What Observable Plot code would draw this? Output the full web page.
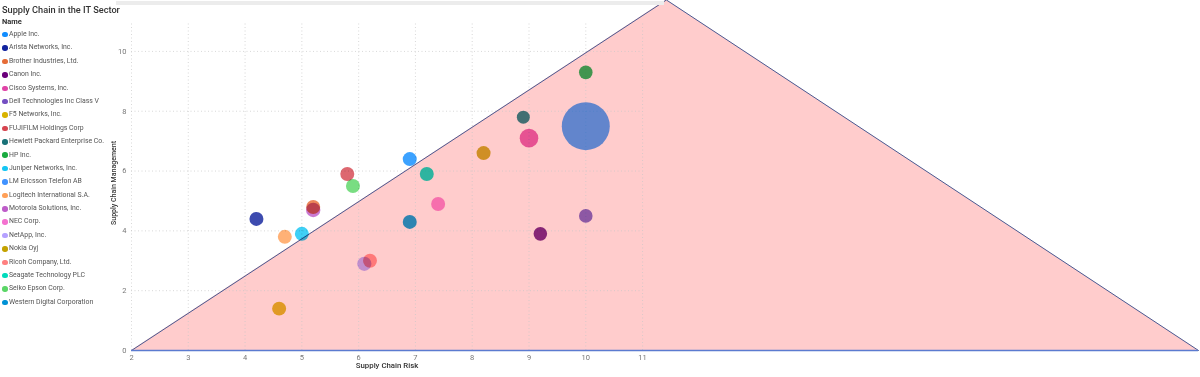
<!DOCTYPE html>
<html>
<head>
<meta charset="utf-8">
<script src="https://cdn.jsdelivr.net/npm/d3@7"></script>
<script src="https://cdn.jsdelivr.net/npm/@observablehq/plot@0.6"></script>
<style>
  html, body { margin: 0; padding: 0; background: #fff; }
  body { width: 1200px; height: 377px; overflow: hidden; position: relative;
         font-family: Roboto, "Liberation Sans", sans-serif; }
  #chart { position: absolute; left: 0; top: 0; }
  #topbar { position: absolute; left: 116px; top: 1px; width: 548px; height: 4px; background: #ececec; }
  #title { position: absolute; left: 2px; top: 4px; font-size: 9.2px; color: #333; white-space: nowrap; font-weight: 500; }
  #legend { position: absolute; left: 2px; top: 16px; color: #555; }
  #legend .hd { font-weight: bold; font-size: 7.5px; color: #333; height: 12px; line-height: 12px; }
  #legend .it { font-size: 6.9px; height: 13.4px; line-height: 13.4px; white-space: nowrap; display: flex; align-items: center; }
  #legend .sw { width: 5.5px; height: 5.5px; border-radius: 50%; margin-right: 1.5px; flex: none; }
</style>
</head>
<body>
<div id="chart"></div>
<div id="topbar"></div>
<div id="title">Supply Chain in the IT Sector</div>
<div id="legend"></div>
<script>
// ---- data ----
const names = [
  "Apple Inc.", "Arista Networks, Inc.", "Brother Industries, Ltd.", "Canon Inc.",
  "Cisco Systems, Inc.", "Dell Technologies Inc Class V", "F5 Networks, Inc.",
  "FUJIFILM Holdings Corp", "Hewlett Packard Enterprise Co.", "HP Inc.",
  "Juniper Networks, Inc.", "LM Ericsson Telefon AB", "Logitech International S.A.",
  "Motorola Solutions, Inc.", "NEC Corp.", "NetApp, Inc.", "Nokia Oyj",
  "Ricoh Company, Ltd.", "Seagate Technology PLC", "Seiko Epson Corp.",
  "Western Digital Corporation"
];
const risk = [6.9, 4.2, 5.2, 9.2, 9.0, 10.0, 4.6, 5.8, 8.9, 10.0, 5.0, 10.0, 4.7, 5.2, 7.4, 6.1, 8.2, 6.2, 7.2, 5.9, 6.9];
const management = [6.4, 4.4, 4.8, 3.9, 7.1, 4.5, 1.4, 5.9, 7.8, 9.3, 3.9, 7.5, 3.8, 4.7, 4.9, 2.9, 6.6, 3.0, 5.9, 5.5, 4.3];
const bubbleSize = [8.5, 8.5, 8.5, 8.0, 15, 8.0, 8.5, 8.5, 7.3, 8.0, 8.5, 100, 8.5, 9, 8.5, 8.8, 8.5, 8.4, 8.5, 8.5, 8.5];
const palette = [
  "#118DFF", "#12239E", "#E66C37", "#6B007B", "#E044A7", "#744EC2", "#D9B300",
  "#D64550", "#197278", "#1AAB40", "#15C6F4", "#4092FF", "#FFA058", "#BE5DC9",
  "#F472D0", "#B5A1FF", "#C4A200", "#FF8080", "#00DBBC", "#5BD667", "#0091D5"
];
const xTicks = [2, 3, 4, 5, 6, 7, 8, 9, 10, 11];
const yTicks = [0, 2, 4, 6, 8, 10];
const xDomain = [2, 20.79];
const yDomain = [0, 11];
// background triangle (data units)
const triRisk = [2, 11.42, 20.79];
const triMgmt = [0, 11.72, 0];
const xLabel = "Supply Chain Risk";
const yLabel = "Supply Chain Management";
const legendTitle = "Name";

const rows = names.map((n, i) => ({name: n, risk: risk[i], mgmt: management[i], size: bubbleSize[i]}));
const tri = triRisk.map((x, i) => ({x, y: triMgmt[i]}));

const fontStack = 'Roboto, "Liberation Sans", sans-serif';

const chart = Plot.plot({
  width: 1200,
  height: 377,
  marginLeft: 131,
  marginRight: 2,
  marginTop: 21,
  marginBottom: 27,
  style: {fontFamily: fontStack, background: "transparent", overflow: "visible"},
  x: {domain: xDomain, ticks: xTicks, label: null},
  y: {domain: yDomain, ticks: yTicks, label: null},
  color: {domain: names, range: palette},
  r: {type: "sqrt", domain: [0, 100], range: [0, 24]},
  marks: [
    Plot.areaY(tri, {x: "x", y: "y", fill: "#ffcccc"}),
    Plot.ruleX(xTicks, {y1: yDomain[0], y2: yDomain[1], stroke: "#c8c8c8", strokeDasharray: "1,2.5", strokeOpacity: 0.7}),
    Plot.ruleY(yTicks, {x1: xTicks[0], x2: xTicks[xTicks.length - 1], stroke: "#c8c8c8", strokeDasharray: "1,2.5", strokeOpacity: 0.7}),
    Plot.line(tri, {x: "x", y: "y", stroke: "#4a5a92", strokeWidth: 1}),
    Plot.ruleY([triMgmt[0]], {x1: triRisk[0], x2: triRisk[2], stroke: "#5b7bd0", strokeWidth: 1.5}),
    Plot.axisX({ticks: xTicks, tickSize: 0, tickPadding: 4, fontSize: 7.5, color: "#777", label: null}),
    Plot.axisY({ticks: yTicks, tickSize: 0, tickPadding: 5, fontSize: 7.5, color: "#777", label: null}),
    Plot.dot(rows, {x: "risk", y: "mgmt", r: "size", fill: "name", fillOpacity: 0.82, mixBlendMode: "multiply"}),
    Plot.text([xLabel], {x: () => (xTicks[0] + xTicks[xTicks.length - 1]) / 2, frameAnchor: "bottom", dy: 17, text: d => d, fontSize: 7.8, fontWeight: 500, fill: "#333"}),
    Plot.text([yLabel], {frameAnchor: "left", textAnchor: "middle", dx: -18, dy: -3, rotate: -90, text: d => d, fontSize: 7, fontWeight: 500, fill: "#333"})
  ]
});
document.getElementById("chart").appendChild(chart);

// legend
const lg = document.getElementById("legend");
const hd = document.createElement("div");
hd.className = "hd"; hd.textContent = legendTitle; lg.appendChild(hd);
names.forEach((n, i) => {
  const it = document.createElement("div");
  it.className = "it";
  const sw = document.createElement("span");
  sw.className = "sw"; sw.style.background = palette[i];
  const tx = document.createElement("span");
  tx.textContent = n;
  it.appendChild(sw); it.appendChild(tx);
  lg.appendChild(it);
});
</script>
</body>
</html>
